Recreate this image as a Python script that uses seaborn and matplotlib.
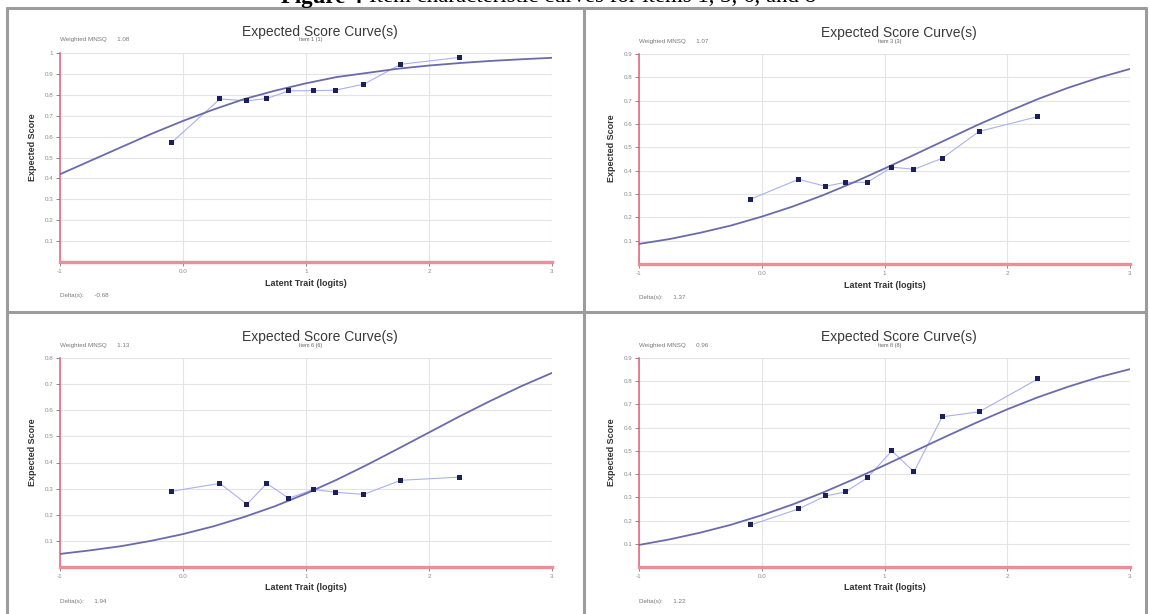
import numpy as np
import pandas as pd
import matplotlib
matplotlib.use("Agg")
import matplotlib.pyplot as plt
import seaborn as sns
from matplotlib.lines import Line2D

# ---------------- data ----------------
theta_grid = [-1.0, -0.75, -0.5, -0.25, 0.0, 0.25, 0.5, 0.75, 1.0,
              1.25, 1.5, 1.75, 2.0, 2.25, 2.5, 2.75, 3.0]
group_ability = [-0.09, 0.30, 0.52, 0.68, 0.86, 1.06, 1.24, 1.47, 1.77, 2.25]

item_labels = ["Item 1 (1)", "Item 3 (3)", "Item 6 (6)", "Item 8 (8)"]
weighted_mnsq = ["1.08", "1.07", "1.13", "0.96"]
delta_values = ["-0.68", "1.37", "1.94", "1.22"]
y_max = [1.0, 0.9, 0.8, 0.9]

curve_item1 = [0.42, 0.485, 0.55, 0.615, 0.675, 0.73, 0.78, 0.82, 0.855,
               0.885, 0.905, 0.925, 0.94, 0.952, 0.962, 0.97, 0.977]
curve_item3 = [0.086, 0.107, 0.134, 0.165, 0.203, 0.246, 0.295, 0.35, 0.409,
               0.47, 0.532, 0.594, 0.652, 0.707, 0.756, 0.799, 0.836]
curve_item6 = [0.05, 0.064, 0.08, 0.101, 0.126, 0.156, 0.192, 0.233, 0.281,
               0.334, 0.392, 0.453, 0.515, 0.577, 0.636, 0.692, 0.743]
curve_item8 = [0.095, 0.119, 0.148, 0.182, 0.223, 0.269, 0.321, 0.378, 0.438,
               0.5, 0.562, 0.622, 0.679, 0.731, 0.777, 0.818, 0.852]

obs_item1 = [0.573, 0.78, 0.771, 0.782, 0.819, 0.82, 0.822, 0.851, 0.946, 0.979]
obs_item3 = [0.278, 0.363, 0.333, 0.350, 0.350, 0.415, 0.406, 0.453, 0.568, 0.632]
obs_item6 = [0.29, 0.32, 0.24, 0.32, 0.263, 0.297, 0.286, 0.278, 0.332, 0.344]
obs_item8 = [0.181, 0.25, 0.306, 0.323, 0.384, 0.50, 0.41, 0.647, 0.668, 0.81]

x_ticks = [-1, 0, 1, 2, 3]
x_tick_labels = ["-1", "0.0", "1", "2", "3"]

curves = [curve_item1, curve_item3, curve_item6, curve_item8]
observed = [obs_item1, obs_item3, obs_item6, obs_item8]

# ---------------- layout ----------------
W, H = 1149, 614
sns.set_theme(style="white")
plt.rcParams["font.family"] = ["Liberation Sans", "DejaVu Sans"]

fig = plt.figure(figsize=(W / 100, H / 100), dpi=100)
fig.patch.set_facecolor("white")


def fx(px):
    return px / W


def fy(py):
    return 1 - py / H


# panel rectangles (left, top, right, bottom) in pixels
rects = [(60, 53, 552, 262), (639, 54, 1130, 264),
         (60, 358, 552, 567), (639, 358, 1130, 567)]

curve_color = "#6a6aae"
obs_line_color = "#a9b0f2"
point_color = "#1b1f5c"
axis_red = "#e3607a"
grid_col = "#e4e4e4"

for i, (l, t, r, b) in enumerate(rects):
    ax = fig.add_axes([fx(l), fy(b), (r - l) / W, (b - t) / H])
    ax.set_facecolor("white")
    df_curve = pd.DataFrame({"theta": theta_grid, "score": curves[i]})
    df_obs = pd.DataFrame({"theta": group_ability, "score": observed[i]})

    sns.lineplot(data=df_obs, x="theta", y="score", ax=ax, color=obs_line_color,
                 lw=0.8, zorder=3)
    sns.lineplot(data=df_curve, x="theta", y="score", ax=ax, color=curve_color,
                 lw=1.3, zorder=4)
    sns.scatterplot(data=df_obs, x="theta", y="score", ax=ax, color=point_color,
                    marker="s", s=13, edgecolor="none", zorder=5)

    ax.set_xlim(-1, 3)
    ax.set_ylim(0, y_max[i])
    yt = np.round(np.arange(1, int(round(y_max[i] * 10)) + 1) / 10, 1)
    ax.set_yticks(yt)
    ax.set_yticklabels(["1" if v == 1.0 else f"{v:.1f}" for v in yt])
    ax.set_xticks(x_ticks)
    ax.set_xticklabels(x_tick_labels)
    ax.grid(True, color=grid_col, lw=0.8, zorder=0)
    ax.set_axisbelow(True)
    for s in ["top", "right"]:
        ax.spines[s].set_visible(False)
    ax.spines["left"].set_color(axis_red)
    ax.spines["left"].set_linewidth(1.1)
    ax.spines["bottom"].set_color("#ee8c98")
    ax.spines["bottom"].set_linewidth(2.4)
    ax.tick_params(axis="both", direction="out", length=3, width=0.7,
                   colors="#8a8a8a", labelsize=4.5, pad=2,
                   left=True, bottom=True)
    ax.set_xlabel("")
    ax.set_ylabel("Expected Score", fontsize=6.5, fontweight="bold",
                  color="#333333")
    ax.yaxis.set_label_coords(-23 / (r - l), 0.55)

    cx = (l + r) / 2
    fig.text(fx(cx + 14), fy(t - 21), "Expected Score Curve(s)", ha="center",
             va="center", fontsize=10, color="#3a3a3a")
    fig.text(fx(cx + 5), fy(t - 13), item_labels[i], ha="center", va="center",
             fontsize=4, color="#666666")
    fig.text(fx(l), fy(t - 13), f"Weighted MNSQ      {weighted_mnsq[i]}",
             ha="left", va="center", fontsize=4.5, color="#777777")
    fig.text(fx(cx), fy(b + 21), "Latent Trait (logits)", ha="center",
             va="center", fontsize=6.5, fontweight="bold", color="#333333")
    fig.text(fx(l), fy(b + 34), f"Delta(s):      {delta_values[i]}",
             ha="left", va="center", fontsize=4.5, color="#777777")

# panel border lines
border_col = "#9c9c9c"
for xpx in [7, 584, 1146]:
    fig.add_artist(Line2D([fx(xpx), fx(xpx)], [fy(8), fy(614)],
                          color=border_col, lw=2.2))
for ypx in [8, 312]:
    fig.add_artist(Line2D([fx(7), fx(1146)], [fy(ypx), fy(ypx)],
                          color=border_col, lw=2.2))

# caption (cut off at the top, as in the scanned page)
cap_size = 16.5
t1 = fig.text(fx(281), 1 - 2.5 / H, "Figure 4", ha="left", va="baseline",
              fontsize=cap_size, fontweight="bold", family="Liberation Serif",
              color="black")
fig.canvas.draw()
bb = t1.get_window_extent(renderer=fig.canvas.get_renderer())
fig.text(bb.x1 / W + 7 / W, 1 - 2.5 / H,
         "Item characteristic curves for items 1, 3, 6, and 8",
         ha="left", va="baseline", fontsize=cap_size, family="Liberation Serif",
         color="black")

fig.savefig("out.png", dpi=100, facecolor="white")
